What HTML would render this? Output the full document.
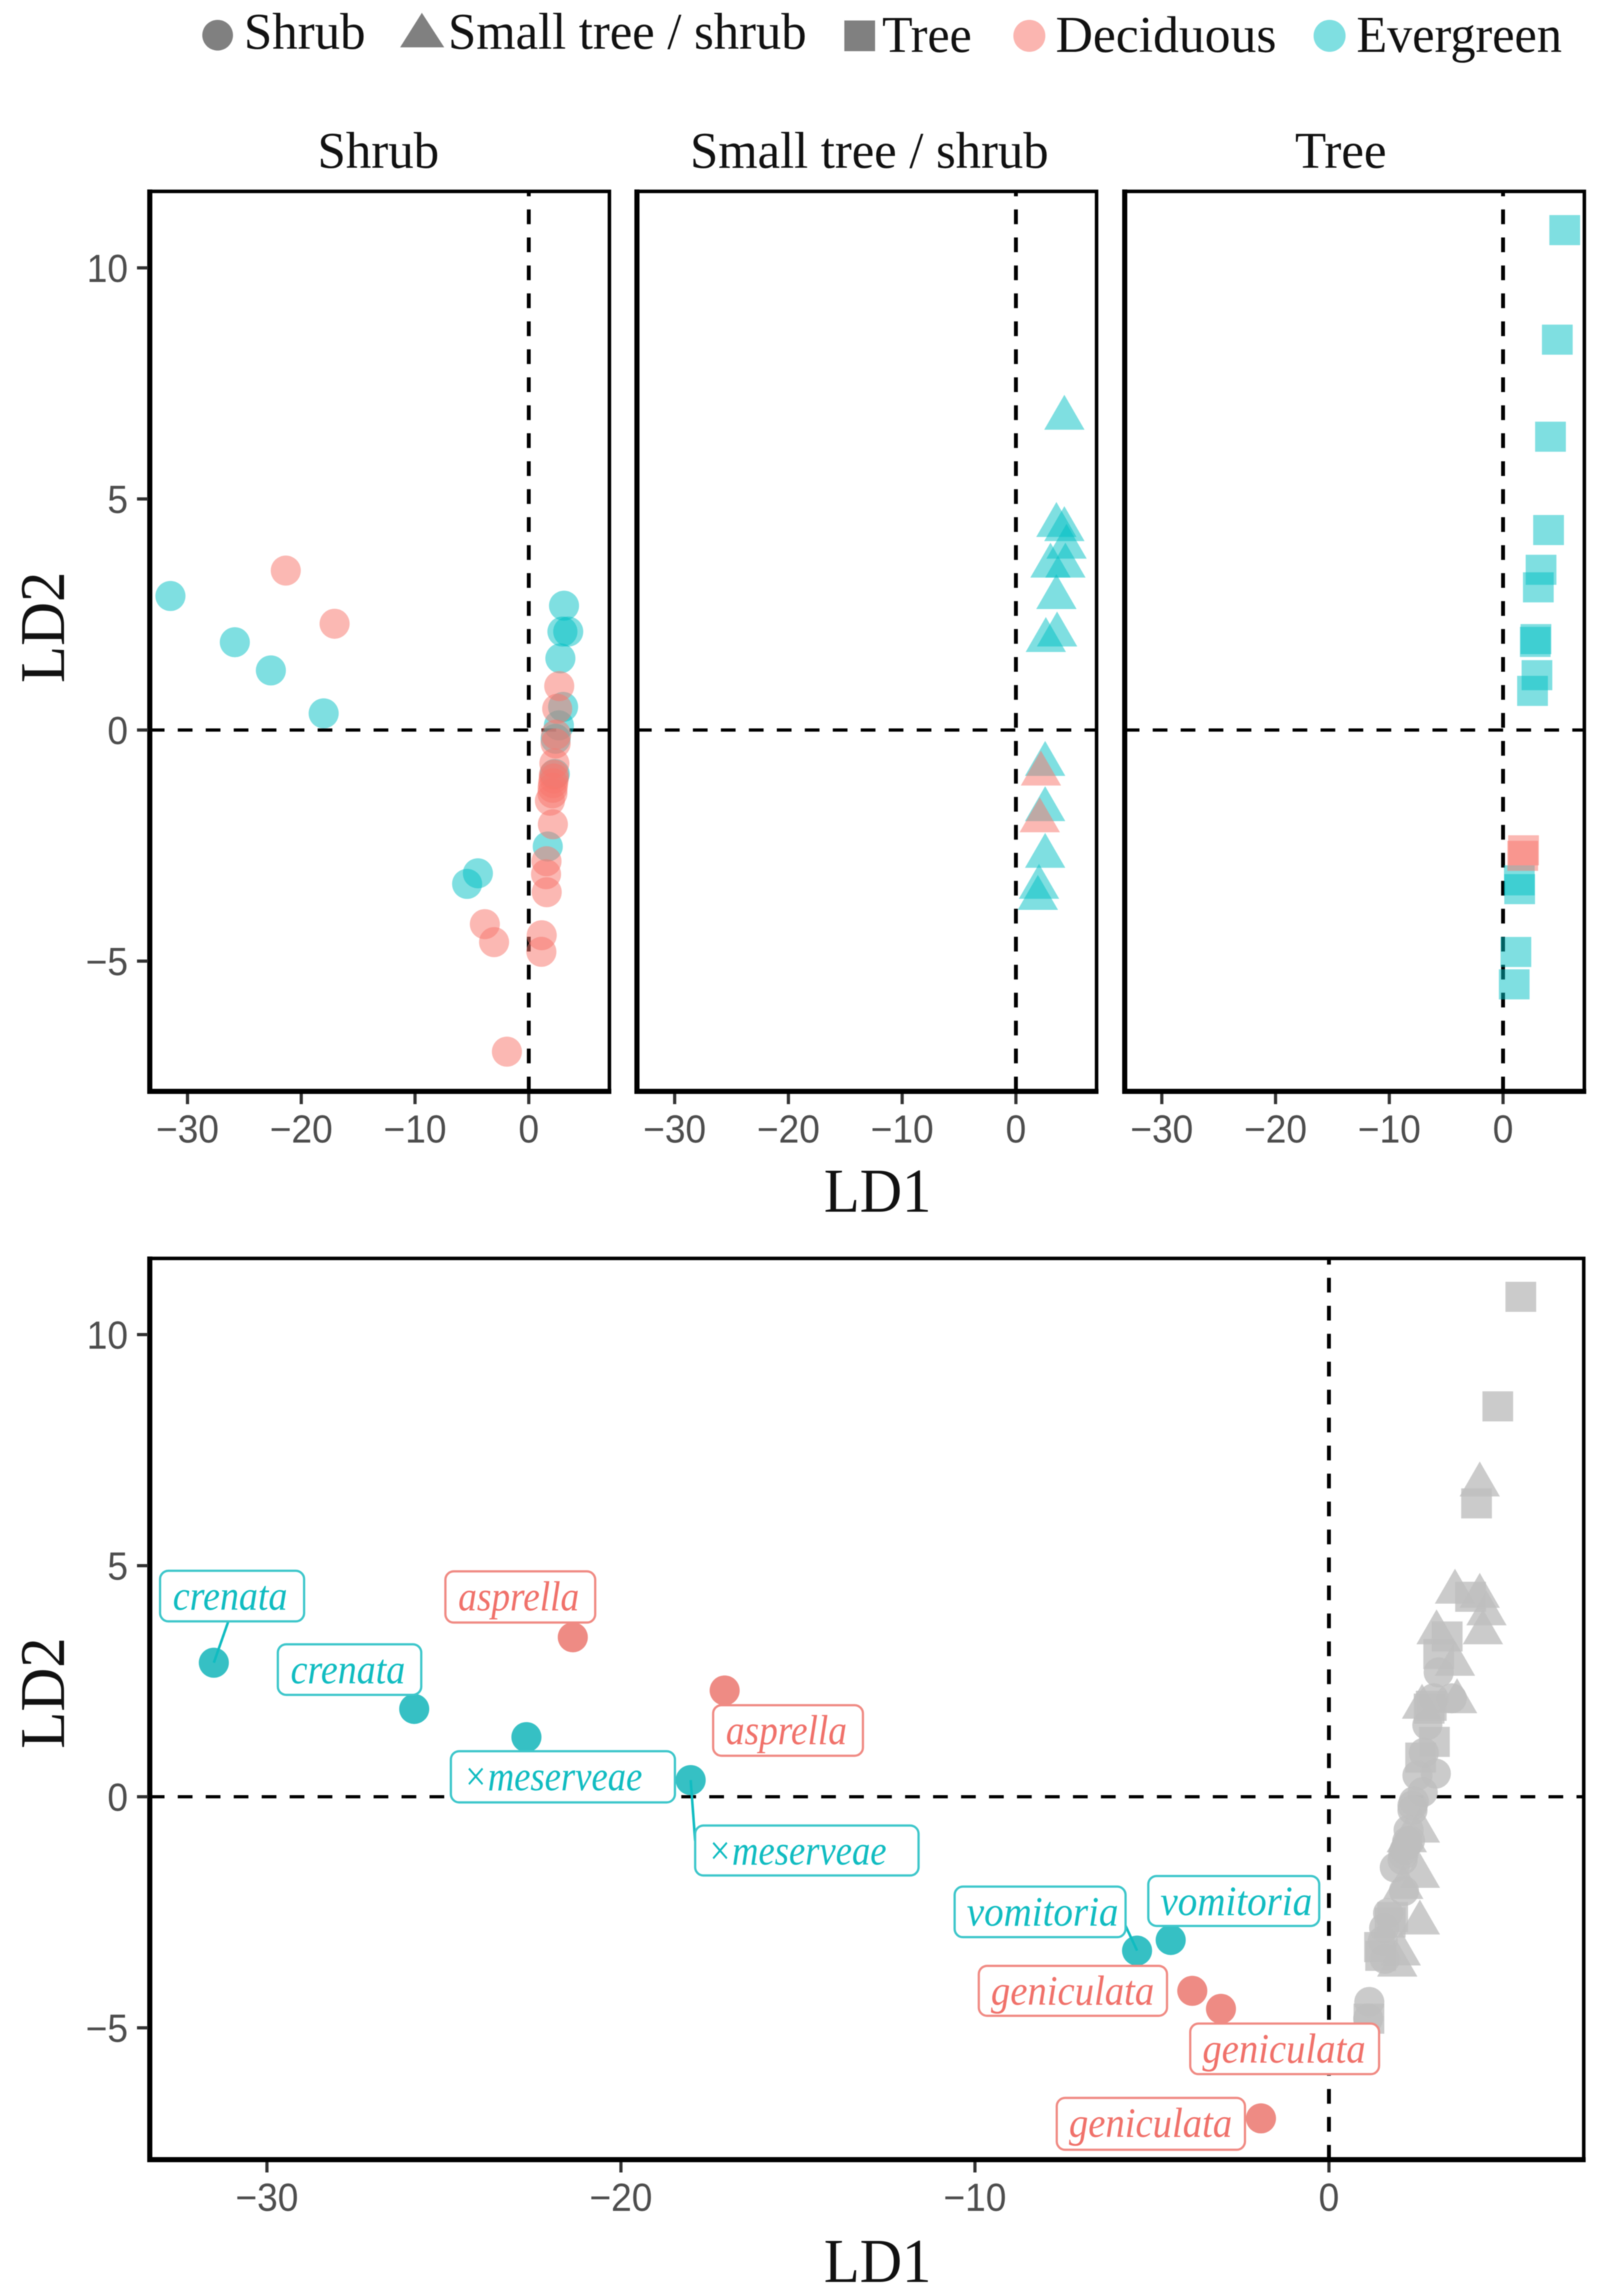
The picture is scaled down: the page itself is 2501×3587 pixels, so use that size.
<!DOCTYPE html>
<html lang="en">
<head>
<meta charset="utf-8">
<title>LD1 / LD2 scatter by growth form and leaf habit</title>
<style>
html,body{margin:0;padding:0;background:#fff;}
svg{display:block;filter:blur(0.7px);}
text{font-family:"Liberation Serif",serif;}
.tick{font-family:"Liberation Sans",sans-serif;font-size:61px;fill:#4d4d4d;}
</style>
</head>
<body>
<svg id="chart" xmlns="http://www.w3.org/2000/svg" width="2501" height="3587" viewBox="0 0 2501 3587">
  <rect x="0" y="0" width="2501" height="3587" fill="#ffffff"/>

  <g>
    <circle cx="340" cy="55" r="24" fill="#808080"/>
    <text x="381" y="76" font-size="80" textLength="190" lengthAdjust="spacingAndGlyphs" fill="#111">Shrub</text>
    <polygon points="659,20 694,74 625,74" fill="#808080"/>
    <text x="700" y="76" font-size="80" textLength="560" lengthAdjust="spacingAndGlyphs" fill="#111">Small tree / shrub</text>
    <rect x="1319" y="32" width="48" height="48" fill="#808080"/>
    <text x="1378" y="81" font-size="80" textLength="140" lengthAdjust="spacingAndGlyphs" fill="#111">Tree</text>
    <circle cx="1608" cy="56" r="25" fill="#fbb5b0"/>
    <text x="1649" y="81" font-size="80" textLength="345" lengthAdjust="spacingAndGlyphs" fill="#111">Deciduous</text>
    <circle cx="2077" cy="56" r="25" fill="#7fdfe1"/>
    <text x="2119" y="81" font-size="80" textLength="321" lengthAdjust="spacingAndGlyphs" fill="#111">Evergreen</text>
  </g>

  <text x="496" y="262" font-size="80" textLength="190" lengthAdjust="spacingAndGlyphs" fill="#111">Shrub</text>
  <text x="1078" y="262" font-size="80" textLength="560" lengthAdjust="spacingAndGlyphs" fill="#111">Small tree / shrub</text>
  <text x="2023" y="262" font-size="80" textLength="143" lengthAdjust="spacingAndGlyphs" fill="#111">Tree</text>

  <text transform="translate(100,1067) rotate(-90)" font-size="100" textLength="174" lengthAdjust="spacingAndGlyphs" fill="#111">LD2</text>
  <text transform="translate(100,2732) rotate(-90)" font-size="100" textLength="174" lengthAdjust="spacingAndGlyphs" fill="#111">LD2</text>
  <text x="1287" y="1893" font-size="98" textLength="168" lengthAdjust="spacingAndGlyphs" fill="#111">LD1</text>
  <text x="1287" y="3565" font-size="98" textLength="168" lengthAdjust="spacingAndGlyphs" fill="#111">LD1</text>

  <g id="plots"></g>
</svg>

<script>
// ---- Data: growth form / leaf habit series (LD1, LD2) ----
const xTicks = [-30, -20, -10, 0];
const xTickLabels = ['\u221230', '\u221220', '\u221210', '0'];
const yTicks = [-5, 0, 5, 10];
const yTickLabels = ['\u22125', '0', '5', '10'];

const shrubEvergreenLD1 = [-31.5, -25.84, -22.67, -18.03, -5.42, -4.47, 3.10, 2.96, 3.47, 2.78, 3.02, 2.65, 2.36, 2.29, 1.67];
const shrubEvergreenLD2 = [2.90, 1.90, 1.29, 0.36, -3.33, -3.10, 2.69, 2.13, 2.13, 1.55, 0.50, 0.10, -0.19, -0.95, -2.52];
const shrubEvergreenNames = ['crenata', 'crenata', '\u00d7meserveae', '\u00d7meserveae', 'vomitoria', 'vomitoria'];

const shrubDeciduousLD1 = [-21.36, -17.07, -3.86, -3.05, -1.92, 2.68, 2.50, 2.40, 2.36, 2.25, 2.21, 2.14, 2.08, 1.86, 2.20, 2.10, 2.12, 1.56, 1.52, 1.58, 1.14, 1.11];
const shrubDeciduousLD2 = [3.45, 2.30, -4.20, -4.59, -6.96, 0.95, 0.46, -0.10, -0.29, -0.72, -0.97, -1.15, -1.37, -1.53, -1.05, -1.25, -2.04, -2.84, -3.12, -3.51, -4.44, -4.80];
const shrubDeciduousNames = ['asprella', 'asprella', 'geniculata', 'geniculata', 'geniculata'];

const smallTreeEvergreenLD1 = [4.26, 3.56, 4.26, 4.45, 3.04, 4.35, 3.56, 2.63, 3.62, 2.57, 2.57, 2.57, 2.03, 1.93];
const smallTreeEvergreenLD2 = [6.75, 4.43, 4.34, 3.96, 3.55, 3.55, 2.87, 1.94, 2.06, -0.74, -1.72, -2.73, -3.40, -3.64];
const smallTreeDeciduousLD1 = [2.20, 2.10];
const smallTreeDeciduousLD2 = [-0.95, -1.96];

const treeEvergreenLD1 = [5.42, 4.77, 4.17, 4.00, 3.34, 3.10, 2.89, 2.83, 2.98, 2.59, 1.43, 1.46, 1.13, 0.98];
const treeEvergreenLD2 = [10.81, 8.44, 6.34, 4.32, 3.46, 3.08, 1.96, 1.90, 1.18, 0.84, -3.26, -3.45, -4.81, -5.51];
const treeDeciduousLD1 = [1.80, 1.73];
const treeDeciduousLD2 = [-2.61, -2.73];

// ---- Layout and axis functions ----
const NS = 'http://www.w3.org/2000/svg';
const root = document.getElementById('plots');
const EVERGREEN = '#00bfc4';
const DECIDUOUS = '#f8766d';
const topPanels = [
  { key: 'shrub', left: 234, right: 952, zero: 826 },
  { key: 'small-tree', left: 995, right: 1713, zero: 1587 },
  { key: 'tree', left: 1757, right: 2475, zero: 2348 }
];
const topPanelTop = 299, topPanelBottom = 1705;
const bottomPanelTop = 1966, bottomPanelBottom = 3374;
const bottomLeft = 234, bottomRight = 2474;

function topX(panel, v) { return panel.zero + v * 17.77; }
function topY(v) { return 1140.5 - v * 72.2; }
function bottomX(v) { return 2076 + v * 55.3; }
function bottomY(v) { return 2807 - v * 72.2; }

function make(tag, attrs, parent) {
  const el = document.createElementNS(NS, tag);
  for (const k in attrs) { el.setAttribute(k, attrs[k]); }
  parent.appendChild(el);
  return el;
}

function drawMark(parent, shape, cx, cy, fill, opacity) {
  let el;
  if (shape === 'circle') {
    el = make('circle', { cx: cx, cy: cy, r: 23.5 }, parent);
  } else if (shape === 'triangle') {
    const r = 36.4;
    el = make('polygon', { points: cx + ',' + (cy - r) + ' ' + (cx + r * 0.866) + ',' + (cy + r / 2) + ' ' + (cx - r * 0.866) + ',' + (cy + r / 2) }, parent);
  } else {
    el = make('rect', { x: cx - 24, y: cy - 24, width: 48, height: 47 }, parent);
  }
  el.setAttribute('fill', fill);
  el.setAttribute('fill-opacity', opacity);
  return el;
}

function drawFrame(group, name, left, right, top, bottom, zeroX, zeroY) {
  const h = make('line', { x1: left, x2: right, y1: zeroY, y2: zeroY, stroke: '#000', 'stroke-width': 5, 'stroke-dasharray': '23 20.7' }, group);
  
  
  const v = make('line', { x1: zeroX, x2: zeroX, y1: bottom, y2: top, stroke: '#000', 'stroke-width': 6, 'stroke-dasharray': '23 20.7' }, group);
  
  
}

function drawBorder(group, name, left, right, top, bottom) {
  const b = make('rect', { x: left, y: top, width: right - left, height: bottom - top, fill: 'none', stroke: '#000', 'stroke-width': 5.5 }, group);
  
  
  const l = make('line', { x1: left, x2: left, y1: top - 3, y2: bottom + 4, stroke: '#000', 'stroke-width': 8 }, group);
  
  
  const a = make('line', { x1: left - 4, x2: right + 3, y1: bottom, y2: bottom, stroke: '#000', 'stroke-width': 8 }, group);
  
  
}

function drawXTicks(group, name, scale, bottom) {
  xTicks.forEach(function (t, i) {
    const px = scale(t);
    const tk = make('line', { x1: px, x2: px, y1: bottom + 4, y2: bottom + 20, stroke: '#333', 'stroke-width': 5 }, group);
    
    
    const lb = make('text', { x: px, y: bottom + 80, 'text-anchor': 'middle', class: 'tick' }, group);
    
    
    lb.textContent = xTickLabels[i];
    lb.setAttribute('textLength', lb.getComputedTextLength() * 0.95);
    lb.setAttribute('lengthAdjust', 'spacingAndGlyphs');
  });
}

function drawYTicks(group, name, scale, left) {
  yTicks.forEach(function (t, i) {
    const py = scale(t);
    const tk = make('line', { x1: left - 20, x2: left - 3, y1: py, y2: py, stroke: '#333', 'stroke-width': 5 }, group);
    
    
    const lb = make('text', { x: 200, y: py + 22, 'text-anchor': 'end', class: 'tick' }, group);
    
    
    lb.textContent = yTickLabels[i];
    lb.setAttribute('textLength', lb.getComputedTextLength() * 0.95);
    lb.setAttribute('lengthAdjust', 'spacingAndGlyphs');
  });
}

// ---- Top faceted panels ----
const topSeries = [
  { ev: [shrubEvergreenLD1, shrubEvergreenLD2], de: [shrubDeciduousLD1, shrubDeciduousLD2], shape: 'circle' },
  { ev: [smallTreeEvergreenLD1, smallTreeEvergreenLD2], de: [smallTreeDeciduousLD1, smallTreeDeciduousLD2], shape: 'triangle' },
  { ev: [treeEvergreenLD1, treeEvergreenLD2], de: [treeDeciduousLD1, treeDeciduousLD2], shape: 'square' }
];

topPanels.forEach(function (panel, p) {
  const g = make('g', {}, root);
  
  
  drawFrame(g, panel.key, panel.left, panel.right, topPanelTop, topPanelBottom, panel.zero, topY(0));
  const s = topSeries[p];
  s.ev[0].forEach(function (x, i) {
    const m = drawMark(g, s.shape, topX(panel, x), topY(s.ev[1][i]), EVERGREEN, 0.5);
    
    
  });
  s.de[0].forEach(function (x, i) {
    const m = drawMark(g, s.shape, topX(panel, x), topY(s.de[1][i]), DECIDUOUS, 0.52);
    
    
  });
  drawBorder(g, panel.key, panel.left, panel.right, topPanelTop, topPanelBottom);
  drawXTicks(g, panel.key, function (v) { return topX(panel, v); }, topPanelBottom);
  if (p === 0) { drawYTicks(g, panel.key, topY, panel.left); }
});

// ---- Bottom combined panel ----
const bottom = make('g', {}, root);


drawFrame(bottom, 'combined', bottomLeft, bottomRight, bottomPanelTop, bottomPanelBottom, bottomX(0), bottomY(0));

function drawGrey(xs, ys, shape, skip) {
  xs.forEach(function (x, i) {
    if (i < skip) { return; }
    const m = drawMark(bottom, shape, bottomX(x), bottomY(ys[i]), '#bebebe', 0.8);
    
    
  });
}
drawGrey(treeEvergreenLD1, treeEvergreenLD2, 'square', 0);
drawGrey(treeDeciduousLD1, treeDeciduousLD2, 'square', 0);
drawGrey(smallTreeEvergreenLD1, smallTreeEvergreenLD2, 'triangle', 0);
drawGrey(smallTreeDeciduousLD1, smallTreeDeciduousLD2, 'triangle', 0);
drawGrey(shrubEvergreenLD1, shrubEvergreenLD2, 'circle', shrubEvergreenNames.length);
drawGrey(shrubDeciduousLD1, shrubDeciduousLD2, 'circle', shrubDeciduousNames.length);

shrubEvergreenNames.forEach(function (n, i) {
  const m = drawMark(bottom, 'circle', bottomX(shrubEvergreenLD1[i]), bottomY(shrubEvergreenLD2[i]), '#36c0c4', 1);
  
  
});
shrubDeciduousNames.forEach(function (n, i) {
  const m = drawMark(bottom, 'circle', bottomX(shrubDeciduousLD1[i]), bottomY(shrubDeciduousLD2[i]), '#ee8b84', 1);
  
  
});

function textFit(name) {
  if (name === 'crenata') { return { pad: 20, len: 179 }; }
  if (name === 'asprella') { return { pad: 20, len: 189 }; }
  if (name === 'vomitoria') { return { pad: 19, len: 237 }; }
  if (name === 'geniculata') { return { pad: 19, len: 255 }; }
  return { pad: 19, len: 280 };
}

// Each label box is placed relative to the point it annotates.
function drawLabel(name, x, y, color, boxColor, dx, dy, w, h, segDx, segDy) {
  const px = bottomX(x), py = bottomY(y);
  if (segDx !== null) {
    const seg = make('line', { x1: px, y1: py, x2: px + segDx, y2: py + segDy, stroke: color, 'stroke-width': 4 }, bottom);
    
    
  }
  const box = make('rect', { x: px + dx, y: py + dy, width: w, height: h, rx: 13, ry: 13, fill: '#fff', stroke: boxColor, 'stroke-width': 3.5 }, bottom);
  
  
  const fit = textFit(name);
  const t = make('text', { x: px + dx + fit.pad, y: py + dy + 61, 'font-size': 66, 'font-style': 'italic', fill: color, textLength: fit.len, lengthAdjust: 'spacingAndGlyphs' }, bottom);
  
  
  t.textContent = name;
}

const EV_TXT = '#10bcc1', EV_BOX = '#3cc6ca', DE_TXT = '#f0716a', DE_BOX = '#f08a83';
function ev(i, dx, dy, w, h, sx, sy) { drawLabel(shrubEvergreenNames[i], shrubEvergreenLD1[i], shrubEvergreenLD2[i], EV_TXT, EV_BOX, dx, dy, w, h, sx, sy); }
function de(i, dx, dy, w, h) { drawLabel(shrubDeciduousNames[i], shrubDeciduousLD1[i], shrubDeciduousLD2[i], DE_TXT, DE_BOX, dx, dy, w, h, null, null); }

ev(0, -84, -143.6, 225, 79, 28, -80);
ev(1, -213, -101, 224, 79, null, null);
ev(2, -118, 22, 350, 80, null, null);
ev(3, 7, 71, 349, 78, 7, 95);
ev(4, -285, -100, 267, 79, -19, -41);
ev(5, -35, -100, 267, 78, null, null);
de(0, -199, -103, 234, 80);
de(1, -18, 23, 234, 79);
de(2, -333.5, -39, 294, 78);
de(3, -48, 23, 295, 79);
de(4, -319, -32, 294, 81);

drawBorder(bottom, 'combined', bottomLeft, bottomRight, bottomPanelTop, bottomPanelBottom);
drawXTicks(bottom, 'combined', bottomX, bottomPanelBottom);
drawYTicks(bottom, 'combined', bottomY, bottomLeft);
</script>
</body>
</html>
